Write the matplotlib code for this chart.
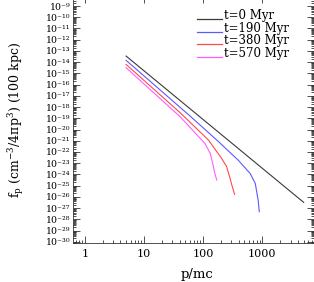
import numpy as np
import matplotlib
matplotlib.use("Agg")
import matplotlib.pyplot as plt
from matplotlib.ticker import LogLocator, FixedLocator, NullFormatter, FuncFormatter

plt.rcParams['font.family'] = ['DejaVu Serif']
plt.rcParams['mathtext.fontset'] = 'dejavuserif'

# data
p_t0 = [5, 5000]
f_t0 = [3.5e-14, 3.2e-27]

p_t190 = [5, 60, 170, 390, 620, 760, 850, 890]
f_t190 = [1.45e-14, 1.6e-19, 1.15e-21, 1.9e-23, 1.25e-24, 1.6e-25, 5.1e-27, 4.7e-28]

p_t380 = [5, 41, 123, 205, 250, 280, 300, 340]
f_t380 = [6.3e-15, 3.1e-19, 1.15e-21, 2.7e-23, 4.8e-24, 6.2e-25, 1.6e-25, 1.65e-26]

p_t570 = [5, 41, 107, 132, 145, 158, 170]
f_t570 = [3.2e-15, 1.35e-19, 5.8e-22, 7.4e-23, 9.5e-24, 1.2e-24, 3.1e-25]

labels = ['t=0 Myr', 't=190 Myr', 't=380 Myr', 't=570 Myr']
colors = ['#3a3a3a', '#5a5aff', '#ff4a4a', '#ff5cff']
series = [(p_t0, f_t0), (p_t190, f_t190), (p_t380, f_t380), (p_t570, f_t570)]

x_ticks = [1, 10, 100, 1000]
x_ticklabels = ['1', '10', '100', '1000']
y_exponents = list(range(-30, -8))

SUP = str.maketrans('-0123456789', '\u207b\u2070\u00b9\u00b2\u00b3\u2074\u2075\u2076\u2077\u2078\u2079')

def ylab(v, pos):
    e = int(round(np.log10(v)))
    return '10' + str(e).translate(SUP)

fig = plt.figure(figsize=(3.14, 2.82), dpi=100)
ax = fig.add_axes([0.2325, 0.138, 0.766, 0.876])

for (p, f), c in zip(series, colors):
    ax.plot(p, f, color=c, lw=0.8)

ax.set_xscale('log')
ax.set_yscale('log')
ax.set_xlim(0.634, 7330)
ax.set_ylim(10**-30.12, 10**-8.11)

ax.xaxis.set_major_locator(FixedLocator(x_ticks))
ax.set_xticklabels(x_ticklabels)
ax.xaxis.set_minor_locator(LogLocator(base=10, subs=np.arange(2, 10), numticks=50))
ax.xaxis.set_minor_formatter(NullFormatter())

ax.yaxis.set_major_locator(FixedLocator([10.0**e for e in y_exponents]))
ax.yaxis.set_major_formatter(FuncFormatter(ylab))
ax.yaxis.set_minor_locator(LogLocator(base=10, subs=np.arange(2, 10), numticks=100))
ax.yaxis.set_minor_formatter(NullFormatter())

ax.tick_params(which='both', direction='in', top=True, right=True, width=0.6, colors='#333333', labelcolor='black')
ax.tick_params(which='major', length=5, pad=2)
ax.tick_params(axis='y', which='major', labelsize=6.8)
ax.tick_params(axis='x', which='major', labelsize=8, pad=4)
ax.tick_params(which='minor', length=2.5)
for s in ax.spines.values():
    s.set_linewidth(0.6)
    s.set_color('#333333')

ax.set_xlabel('p/mc', fontsize=9.5)
ax.xaxis.set_label_coords(0.516, -0.10)
ax.set_ylabel(r'f$_\mathregular{p}$ (cm$^\mathregular{-3}$/4$\mathregular{\pi}$p$^\mathregular{3}$) (100 kpc)', fontsize=9)
ax.yaxis.set_label_coords(-0.195, 0.5)

# legend (manual, line key at text baseline)
leg_x0, leg_x1, leg_tx = 0.516, 0.620, 0.626
leg_y0, leg_dy = 0.907, 0.0513
for i, (lab, c) in enumerate(zip(labels, colors)):
    yy = leg_y0 - i * leg_dy
    ax.plot([leg_x0, leg_x1], [yy, yy], color=c, lw=0.9, transform=ax.transAxes)
    ax.text(leg_tx, yy, lab, fontsize=8.5, va='baseline', ha='left', transform=ax.transAxes)

fig.savefig('out.png', dpi=100)
